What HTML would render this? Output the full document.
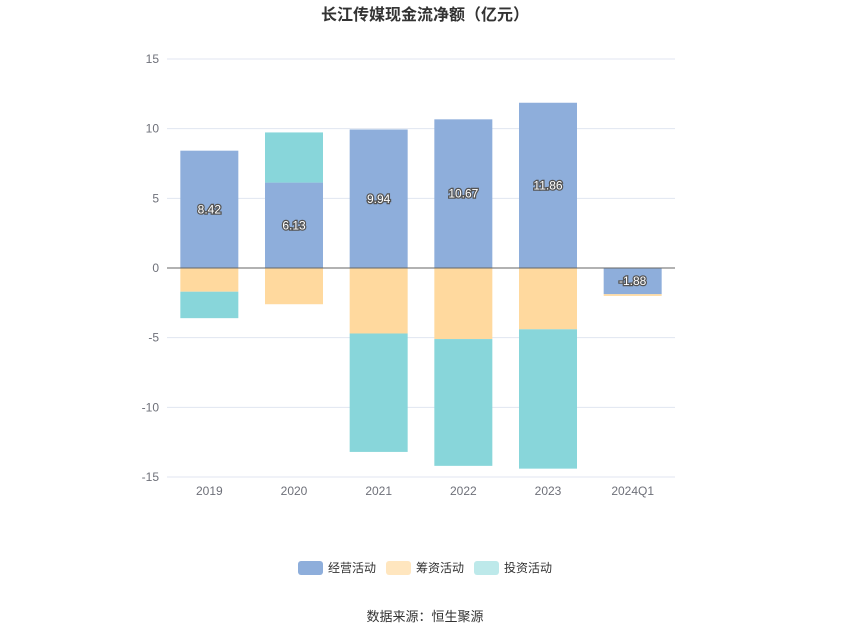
<!DOCTYPE html>
<html><head><meta charset="utf-8"><style>
body{margin:0;background:#fff;font-family:"Liberation Sans","Noto Sans CJK SC",sans-serif}
#wrap{position:relative;width:850px;height:637px}
</style></head><body>
<div id="wrap">
<svg id="chart" width="850" height="637">
<text x="425" y="20" text-anchor="middle" font-size="16" font-weight="bold" fill="#333">长江传媒现金流净额（亿元）</text>
<g id="grid"></g><g id="bars"></g><g id="labels"></g>
<g>
<g><rect x="298" y="561" width="25" height="14" rx="3" fill="#8eaedb"/><text x="328" y="572" font-size="12" fill="#333">经营活动</text></g>
<g><rect x="386" y="561" width="25" height="14" rx="3" fill="#ffe6bf"/><text x="416" y="572" font-size="12" fill="#333">筹资活动</text></g>
<g><rect x="474" y="561" width="25" height="14" rx="3" fill="#bde9ea"/><text x="504" y="572" font-size="12" fill="#333">投资活动</text></g>
</g>
<text x="425" y="621" text-anchor="middle" font-size="13" fill="#333">数据来源：恒生聚源</text>
</svg></div>
<script>
const categories=["2019","2020","2021","2022","2023","2024Q1"];
const operating=[8.42,6.13,9.94,10.67,11.86,-1.88];
const financing=[-1.7,-2.6,-4.7,-5.1,-4.4,-0.12];
const investing=[-1.9,3.6,-8.5,-9.1,-10.0,0];
const yTicks=[15,10,5,0,-5,-10,-15];
const NS="http://www.w3.org/2000/svg";
const plotLeft=167,plotRight=675,plotTop=59,plotBottom=477,yMax=15,yMin=-15;
const yScale=v=>plotTop+(yMax-v)/(yMax-yMin)*(plotBottom-plotTop);
const band=(plotRight-plotLeft)/categories.length;
const xc=i=>plotLeft+band*(i+0.5);
const bw=58;
function mk(tag,attrs,parent){const e=document.createElementNS(NS,tag);for(const k in attrs)e.setAttribute(k,attrs[k]);parent.appendChild(e);return e;}
const grid=document.getElementById('grid'),bars=document.getElementById('bars'),labels=document.getElementById('labels');
yTicks.forEach(t=>{
 const l=mk('line',{x1:plotLeft,x2:plotRight,y1:yScale(t),y2:yScale(t),stroke:'#e0e6f1','stroke-width':1},grid);
 
 
 const tx=mk('text',{x:plotLeft-8,y:yScale(t)+4,'text-anchor':'end','font-size':12,fill:'#6e7079'},grid);
 tx.textContent=t;
 
 
});
categories.forEach((c,i)=>{
 const tx=mk('text',{x:xc(i),y:plotBottom+18,'text-anchor':'middle','font-size':12,fill:'#6e7079'},grid);
 tx.textContent=c;
 
 
 let pos=0,neg=0;
 [[operating,'#8eaedb','operating'],[financing,'#ffd99e','financing'],[investing,'#88d6da','investing']].forEach(([arr,col,nm])=>{
  const v=arr[i];if(!v)return;
  let a,b;
  if(v>=0){a=pos;b=pos+v;pos=b;}else{a=neg;b=neg+v;neg=b;}
  const r=mk('rect',{x:xc(i)-bw/2,y:Math.min(yScale(a),yScale(b)),width:bw,height:Math.abs(yScale(a)-yScale(b)),fill:col},bars);
  
  
 });
 const v=operating[i];
 const lt=mk('text',{x:xc(i),y:(yScale(0)+yScale(v))/2+4,'text-anchor':'middle','font-size':12,fill:'#fff',stroke:'#555','stroke-width':2.5,'paint-order':'stroke'},labels);
 lt.textContent=v.toFixed(2);
 
 
});
const z=mk('line',{x1:plotLeft,x2:plotRight,y1:yScale(0),y2:yScale(0),stroke:'#666','stroke-width':1},labels);


</script>
</body></html>
